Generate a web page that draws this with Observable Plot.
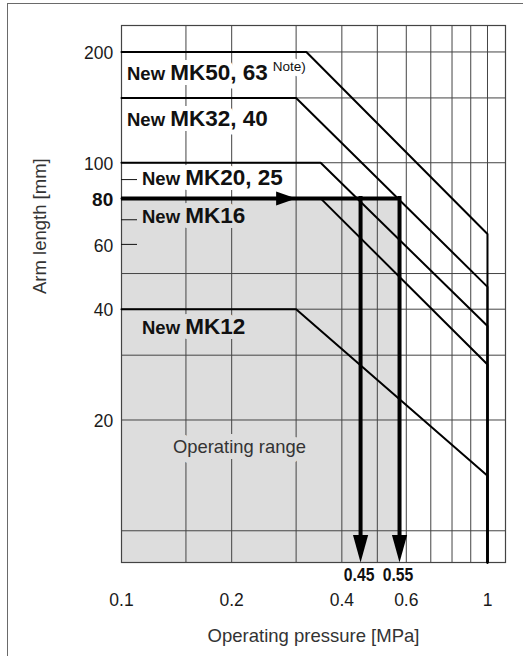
<!DOCTYPE html>
<html><head><meta charset="utf-8">
<script src="https://cdn.jsdelivr.net/npm/d3@7"></script>
<script src="https://cdn.jsdelivr.net/npm/@observablehq/plot@0.6"></script>
<style>
html,body{margin:0;padding:0;background:#fff;}
#page{position:relative;width:523px;height:656px;overflow:hidden;}
#chart{position:absolute;left:0;top:0;}
#border{position:absolute;left:6.5px;top:2.5px;width:600px;height:700px;border:1.5px solid #6a6a6a;box-sizing:border-box;pointer-events:none;}
</style></head><body>
<div id="page"><div id="chart"></div><div id="border"></div></div>
<script>
// ---- data ----
const pressureDomain = [0.1, 1.12];
const armDomain = [8.2, 236];
const xGridValues = [0.15, 0.2, 0.3, 0.4, 0.5, 0.6, 0.7, 0.8, 0.9, 1];
const yGridValues = [10, 20, 30, 40, 50, 100, 150, 200];
const yMinorTicks = [60, 70, 90];
const xTickLabels = [0.1, 0.2, 0.4, 0.6, 1];
const yTickLabels = [200, 100, 60, 40, 20];
const yBoldTick = [80];

const seriesNames = ["MK50, 63", "MK32, 40", "MK20, 25", "MK16", "MK12"];
const seriesPrefix = ["New", "New", "New", "New", "New"];
const seriesNote = ["Note)", "", "", "", ""];
const seriesMaxArm = [200, 150, 100, 80, 40];
const seriesKneePressure = [0.32, 0.30, 0.35, 0.35, 0.30];
const seriesArmAtMaxPressure = [64, 46, 36, 28.3, 14.1];
const maxPressure = 1;

const exampleArm = 80;
const examplePressure = [0.45, 0.575];
const examplePressureLabels = ["0.45", "0.55"];
const arrowTipPressure = 0.3;

const rangeLabel = "Operating range";
const xTitle = "Operating pressure [MPa]";
const yTitle = "Arm length [mm]";

// ---- layout / style (not data) ----
const GRAY = "#dddddd";
const labelStyle = {
  "MK50, 63": {dx: 5.5, dy: 28, halo: "#fff"},
  "MK32, 40": {dx: 5.5, dy: 28, halo: "#fff"},
  "MK20, 25": {dx: 20.5, dy: 22.7, halo: "#fff"},
  "MK16":     {dx: 20.5, dy: 25, halo: GRAY},
  "MK12":     {dx: 20.5, dy: 24.3, halo: GRAY}
};
const rangeLabelAt = {x: 0.21, y: 16.9};

// build tables
const seriesPoints = seriesNames.flatMap((name, i) => [
  {name, p: pressureDomain[0], a: seriesMaxArm[i]},
  {name, p: seriesKneePressure[i], a: seriesMaxArm[i]},
  {name, p: maxPressure, a: seriesArmAtMaxPressure[i]},
  {name, p: maxPressure, a: armDomain[0]}
]);

// arrowhead symbols (tip at the anchor point)
const arrowDown = {draw(ctx, size) { const r = Math.sqrt(size / Math.PI);
  ctx.moveTo(0, 0); ctx.lineTo(-0.76 * r, -2.75 * r); ctx.lineTo(0.76 * r, -2.75 * r); ctx.closePath(); }};
const arrowRight = {draw(ctx, size) { const r = Math.sqrt(size / Math.PI);
  ctx.moveTo(0, 0); ctx.lineTo(-2.0 * r, -0.7 * r); ctx.lineTo(-2.0 * r, 0.7 * r); ctx.closePath(); }};

const labelMarks = seriesNames.map((name, i) => {
  const s = labelStyle[name];
  return Plot.text([i], {
    x: () => pressureDomain[0], y: () => seriesMaxArm[i],
    text: () => `${seriesPrefix[i]}|${name}|${seriesNote[i]}`,
    dx: s.dx, dy: s.dy, textAnchor: "start", lineAnchor: "bottom",
    fontWeight: "bold", fontSize: 22.5, fill: "#111",
    stroke: s.halo, strokeWidth: 10, strokeLinejoin: "round"
  });
});

const plot = Plot.plot({
  width: 523, height: 656,
  marginLeft: 121, marginRight: 18, marginTop: 25, marginBottom: 94,
  style: {fontFamily: "'Liberation Sans', Arial, Helvetica, sans-serif", background: "transparent", overflow: "visible"},
  x: {type: "log", domain: pressureDomain, axis: null},
  y: {type: "log", domain: armDomain, axis: null},
  marks: [
    Plot.rect([0], {x1: () => pressureDomain[0], x2: () => examplePressure[1], y1: () => armDomain[0], y2: () => exampleArm, fill: GRAY}),
    Plot.ruleX(xGridValues, {x: d => d, stroke: "#444", strokeWidth: 1}),
    Plot.ruleY(yGridValues, {y: d => d, stroke: "#444", strokeWidth: 1}),
    Plot.frame({stroke: "#444", strokeWidth: 1.2}),
    Plot.axisY(yMinorTicks, {anchor: "left", tickSize: 16, dx: 16, tickFormat: () => "", label: null, stroke: "#111"}),
    ...labelMarks,
    Plot.text([rangeLabel], {x: () => rangeLabelAt.x, y: () => rangeLabelAt.y, text: d => d, fontSize: 18.4, fill: "#333",
      stroke: GRAY, strokeWidth: 12, strokeLinejoin: "round"}),
    Plot.line(seriesPoints, {x: "p", y: "a", z: "name", stroke: "#000", strokeWidth: 2, strokeLinejoin: "miter"}),
    Plot.ruleY([exampleArm], {y: d => d, x1: () => pressureDomain[0], x2: () => examplePressure[1], stroke: "#000", strokeWidth: 4}),
    Plot.ruleX(examplePressure, {x: d => d, y1: () => exampleArm, y2: () => armDomain[0], stroke: "#000", strokeWidth: 4, insetBottom: 14, insetTop: -2}),
    Plot.dot(examplePressure, {x: d => d, frameAnchor: "bottom", symbol: arrowDown, r: 10, fill: "#000"}),
    Plot.dot([arrowTipPressure], {x: d => d, y: () => exampleArm, symbol: arrowRight, r: 10, fill: "#000"}),
    Plot.text(yTickLabels, {y: d => d, text: d => String(d), frameAnchor: "left", dx: -8.3, dy: 1.5, textAnchor: "end", fontSize: 17.5, fill: "#1a1a1a"}),
    Plot.text(yBoldTick, {y: d => d, text: d => String(d), frameAnchor: "left", dx: -8.3, dy: 1, textAnchor: "end", fontSize: 19, fontWeight: "bold", fill: "#111"}),
    Plot.text(xTickLabels, {x: d => d, text: d => String(d), frameAnchor: "bottom", dy: 43.5, fontSize: 17.5, fill: "#1a1a1a"}),
    Plot.text(examplePressure, {x: d => d, text: (d, i) => examplePressureLabels[i], frameAnchor: "bottom", dy: 18.5, dx: -1.5,
      fontSize: 19, fontWeight: "bold", fill: "#111"}),
    Plot.text([xTitle], {text: d => d, frameAnchor: "bottom", dy: 79, fontSize: 18.5, fill: "#333"}),
    Plot.text([yTitle], {text: d => d, frameAnchor: "left", dx: -81, rotate: -90, fontSize: 18.5, fill: "#333"})
  ]
});

const NS = "http://www.w3.org/2000/svg";
plot.querySelectorAll("text").forEach(t => {
  const s = t.textContent;
  // condensed bold look for the example pressure labels
  if (examplePressureLabels.includes(s)) {
    t.setAttribute("transform", (t.getAttribute("transform") || "") + " scale(0.83,1)");
    return;
  }
  if (!s.includes("|")) return;
  // mixed-size series labels: "New" smaller, model larger, note superscript
  const [prefix, model, note] = s.split("|");
  t.textContent = "";
  const a = document.createElementNS(NS, "tspan");
  a.setAttribute("font-size", "18.5"); a.textContent = prefix + " ";
  const b = document.createElementNS(NS, "tspan");
  b.setAttribute("font-size", "22.5"); b.textContent = model;
  t.appendChild(a); t.appendChild(b);
  if (note) {
    const c = document.createElementNS(NS, "tspan");
    c.setAttribute("font-size", "13.5"); c.setAttribute("font-weight", "normal");
    c.setAttribute("dx", "5"); c.setAttribute("dy", "-8.5"); c.textContent = note;
    t.appendChild(c);
  }
});

document.getElementById("chart").appendChild(plot);
</script>
</body></html>
